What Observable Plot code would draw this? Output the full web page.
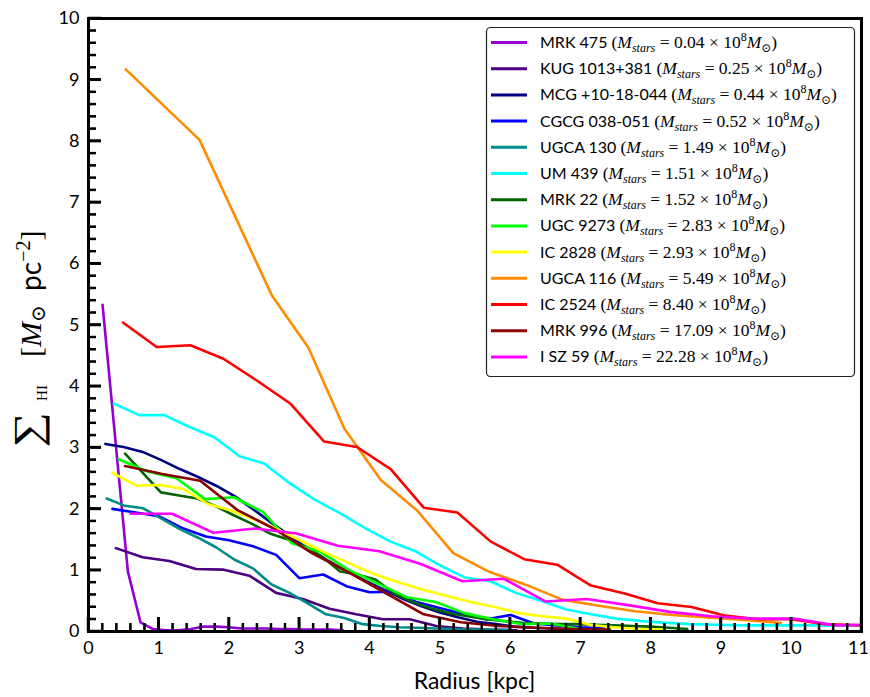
<!DOCTYPE html>
<html><head><meta charset="utf-8">
<script src="https://cdn.jsdelivr.net/npm/d3@7"></script>
<script src="https://cdn.jsdelivr.net/npm/@observablehq/plot@0.6"></script>
<style>body{margin:0;background:#fff}</style>
</head><body><div id="chart"></div>
<script>
// ---- data ----
const galaxies = ["MRK 475","KUG 1013+381","MCG +10-18-044","CGCG 038-051","UGCA 130","UM 439","MRK 22","UGC 9273","IC 2828","UGCA 116","IC 2524","MRK 996","I SZ 59"];
const stellarMass = ["0.04","0.25","0.44","0.52","1.49","1.51","1.52","2.83","2.93","5.49","8.40","17.09","22.28"];
const colors = ["#9400d3","#4b0082","#000080","#0000ff","#008b8b","#00ffff","#006400","#00ff00","#ffff00","#ff8c00","#ff0000","#8b0000","#ff00ff"];

const r_MRK475 = [0.2,0.56,0.74,0.92,1.1,1.28,1.46,1.64,1.82,2.0,2.18,2.36,2.54,2.72,2.9,3.08,3.26,3.44,3.62];
const s_MRK475 = [5.33,0.98,0.15,0.04,0.02,0.02,0.04,0.08,0.08,0.07,0.05,0.05,0.05,0.04,0.04,0.03,0.03,0.03,0.02];
const r_KUG = [0.39,0.77,1.15,1.53,1.91,2.29,2.67,3.05,3.43,3.81,4.19,4.57,4.95,5.33,5.71,6.09];
const s_KUG = [1.36,1.21,1.15,1.02,1.01,0.91,0.63,0.53,0.37,0.28,0.2,0.2,0.09,0.05,0.03,0.02];
const r_MCG = [0.24,0.5,0.77,1.03,1.3,1.56,1.83,2.09,2.36,2.62,2.89,3.15,3.42,3.68,3.95,4.21,4.48,4.74,5.0,5.27,5.53,5.8,6.06,6.33,6.59,6.86,7.12];
const s_MCG = [3.06,3.01,2.93,2.8,2.65,2.52,2.37,2.2,1.98,1.76,1.54,1.33,1.15,0.98,0.82,0.68,0.53,0.41,0.31,0.23,0.16,0.12,0.08,0.06,0.05,0.04,0.03];
const r_CGCG = [0.34,0.67,1.0,1.33,1.67,2.0,2.34,2.67,3.0,3.34,3.67,4.0,4.34,4.67,5.01,5.34,5.67,6.01,6.34,6.67,7.0,7.34];
const s_CGCG = [2.0,1.94,1.88,1.69,1.55,1.49,1.39,1.25,0.87,0.93,0.74,0.64,0.65,0.48,0.38,0.28,0.2,0.27,0.13,0.1,0.07,0.05];
const r_UGCA130 = [0.26,0.52,0.78,1.04,1.3,1.56,1.82,2.08,2.34,2.6,2.86,3.12,3.38,3.64,3.9,4.16,4.42,4.68,4.94,5.2,5.46,5.72,5.98];
const s_UGCA130 = [2.17,2.05,2.01,1.84,1.67,1.53,1.37,1.17,1.03,0.77,0.63,0.46,0.28,0.22,0.12,0.09,0.07,0.06,0.05,0.04,0.03,0.03,0.02];
const r_UM439 = [0.36,0.72,1.08,1.43,1.79,2.15,2.5,2.86,3.22,3.58,3.93,4.29,4.65,5.0,5.36,5.72,6.08,6.44,6.8,7.15,7.51,7.87,8.23,8.58,8.94,9.3,9.66,10.01,10.37,10.73,11.0];
const s_UM439 = [3.72,3.53,3.53,3.34,3.17,2.86,2.74,2.42,2.15,1.93,1.69,1.47,1.31,1.08,0.88,0.82,0.63,0.5,0.36,0.28,0.21,0.17,0.14,0.12,0.11,0.1,0.1,0.1,0.1,0.1,0.1];
const r_MRK22 = [0.52,0.78,1.03,1.29,1.55,1.8,2.06,2.32,2.58,2.84,3.1,3.35,3.58,3.8,4.08,4.35,4.62,4.87,5.13,5.4,5.65,5.9,6.17,6.43,6.7,6.96,7.22,7.48,7.74,8.0,8.26,8.52];
const s_MRK22 = [2.9,2.58,2.27,2.22,2.17,2.05,1.9,1.76,1.6,1.5,1.38,1.2,0.98,0.94,0.85,0.62,0.48,0.38,0.3,0.25,0.2,0.17,0.14,0.13,0.12,0.12,0.11,0.1,0.09,0.08,0.06,0.04];
const r_UGC9273 = [0.43,0.84,1.25,1.66,2.07,2.48,2.89,3.3,3.71,4.12,4.53,4.94,5.35,5.76,6.17,6.58,6.99,7.4];
const s_UGC9273 = [2.81,2.61,2.5,2.16,2.19,1.95,1.44,1.3,1.0,0.78,0.56,0.48,0.3,0.2,0.12,0.13,0.04,0.02];
const r_IC2828 = [0.34,0.68,1.02,1.36,1.7,2.04,2.38,2.72,3.06,3.4,3.74,4.08,4.42,4.76,5.1,5.44,5.78,6.12,6.46,6.8,7.14,7.48,7.82,8.16];
const s_IC2828 = [2.59,2.38,2.39,2.32,2.08,1.97,1.82,1.65,1.46,1.27,1.1,0.93,0.8,0.68,0.58,0.48,0.4,0.3,0.25,0.21,0.11,0.07,0.04,0.03];
const r_UGCA116 = [0.53,1.58,2.61,3.13,3.64,4.16,4.68,5.19,5.71,6.23,6.74,7.26,7.78,8.3,8.81,9.33,9.85];
const s_UGCA116 = [9.17,8.02,5.48,4.63,3.31,2.47,1.97,1.28,0.97,0.76,0.52,0.42,0.33,0.27,0.23,0.19,0.14];
const r_IC2524 = [0.49,0.97,1.45,1.92,2.4,2.87,3.35,3.82,4.3,4.77,5.25,5.72,6.2,6.67,7.15,7.63,8.1,8.58,9.05,9.53,10.0,10.48,10.96];
const s_IC2524 = [5.04,4.64,4.67,4.45,4.09,3.72,3.1,3.01,2.65,2.02,1.94,1.47,1.18,1.09,0.75,0.62,0.46,0.4,0.26,0.2,0.2,0.12,0.1];
const r_MRK996 = [0.52,1.05,1.59,2.12,2.65,3.18,3.71,4.24,4.77,5.3,5.83,6.36,6.89,7.42];
const s_MRK996 = [2.7,2.57,2.46,1.98,1.67,1.28,0.96,0.62,0.28,0.15,0.09,0.06,0.04,0.03];
const r_ISZ59 = [0.6,1.19,1.78,2.37,2.96,3.55,4.14,4.73,5.32,5.91,6.5,7.09,7.68,8.27,8.86,9.45,10.04,10.63,11.0];
const s_ISZ59 = [1.92,1.92,1.61,1.68,1.6,1.4,1.31,1.1,0.82,0.86,0.49,0.53,0.43,0.32,0.25,0.21,0.21,0.1,0.11];

const xMajor = [0,1,2,3,4,5,6,7,8,9,10,11];
const yMajor = [0,1,2,3,4,5,6,7,8,9,10];
const xMinor = [];
for (let i = 1; i < 55; i++) if (i % 5 !== 0) xMinor.push(i / 5);
const yMinor = [];
for (let i = 1; i < 50; i++) if (i % 5 !== 0) yMinor.push(i / 5);

// ---- build table ----
const radii = [r_MRK475,r_KUG,r_MCG,r_CGCG,r_UGCA130,r_UM439,r_MRK22,r_UGC9273,r_IC2828,r_UGCA116,r_IC2524,r_MRK996,r_ISZ59];
const sigmas = [s_MRK475,s_KUG,s_MCG,s_CGCG,s_UGCA130,s_UM439,s_MRK22,s_UGC9273,s_IC2828,s_UGCA116,s_IC2524,s_MRK996,s_ISZ59];
const rows = [];
galaxies.forEach((g, i) => radii[i].forEach((r, j) => rows.push({g, r, s: sigmas[i][j]})));

const W = 870, H = 697, mT = 18, mB = 66, mL = 88, mR = 9;
const innerW = W - mL - mR, innerH = H - mT - mB;
const pxX = innerW / 11, pxY = innerH / 10;
const sans = "Lato, 'DejaVu Sans', sans-serif";
const serif = "'Liberation Serif', 'DejaVu Serif', serif";

const svg = Plot.plot({
  width: W, height: H,
  marginTop: mT, marginBottom: mB, marginLeft: mL, marginRight: mR,
  style: {fontFamily: sans, fontSize: "18px"},
  x: {domain: [0, 11], axis: null},
  y: {domain: [0, 10], axis: null},
  color: {domain: galaxies, range: colors},
  marks: [
    Plot.line(rows, {x: "r", y: "s", z: "g", stroke: "g", strokeWidth: 2.6}),
    Plot.ruleX(xMinor, {x: d => d, y1: 0, y2: 8 / pxY, stroke: "black", strokeWidth: 2}),
    Plot.ruleX(xMajor, {x: d => d, y1: 0, y2: 14 / pxY, stroke: "black", strokeWidth: 2.5}),
    Plot.ruleY(yMinor, {y: d => d, x1: 0, x2: 8 / pxX, stroke: "black", strokeWidth: 2}),
    Plot.ruleY(yMajor, {y: d => d, x1: 0, x2: 13 / pxX, stroke: "black", strokeWidth: 2.5}),
    Plot.text(xMajor.slice(0, -1), {x: d => d, y: 0, dy: 17, text: d => String(d), fontSize: 18, fill: "black"}),
    Plot.text(xMajor.slice(-1), {x: d => d, y: 0, dy: 17, dx: -3, text: d => String(d), fontSize: 18, fill: "black"}),
    Plot.text(yMajor, {x: 0, y: d => d, dx: -9, text: d => String(d), textAnchor: "end", fontSize: 18, fill: "black"}),
    Plot.frame({stroke: "black", strokeWidth: 3})
  ]
});
document.getElementById("chart").appendChild(svg);

const root = d3.select(svg);
const sx = svg.scale("x"), sy = svg.scale("y");
const tg = root.append("g");
const y0 = sy.apply(0), x0 = sx.apply(0);
xMinor.forEach(v => tg.append("line").attr("x1", sx.apply(v)).attr("x2", sx.apply(v)).attr("y1", y0).attr("y2", y0 - 8).attr("stroke", "black").attr("stroke-width", 2));
xMajor.forEach(v => tg.append("line").attr("x1", sx.apply(v)).attr("x2", sx.apply(v)).attr("y1", y0).attr("y2", y0 - 14).attr("stroke", "black").attr("stroke-width", 2.5));
yMinor.forEach(v => tg.append("line").attr("y1", sy.apply(v)).attr("y2", sy.apply(v)).attr("x1", x0).attr("x2", x0 + 8).attr("stroke", "black").attr("stroke-width", 2));
yMajor.forEach(v => tg.append("line").attr("y1", sy.apply(v)).attr("y2", sy.apply(v)).attr("x1", x0).attr("x2", x0 + 13).attr("stroke", "black").attr("stroke-width", 2.5));

// x label
root.append("text").attr("x", mL + innerW / 2).attr("y", 689).attr("text-anchor", "middle")
  .attr("font-family", sans).attr("font-size", 23).attr("fill", "black").text("Radius [kpc]");

// y label
root.append("text").attr("transform", "translate(41,430) rotate(-90) scale(1.25,1)")
  .attr("text-anchor", "middle").attr("font-family", serif).attr("font-size", 40).attr("fill", "black").text("∑");
root.append("text").attr("transform", "translate(47,393) rotate(-90)")
  .attr("text-anchor", "middle").attr("font-family", serif).attr("font-size", 15).attr("fill", "black").text("HI");
const yl = root.append("text").attr("transform", "translate(41,357) rotate(-90)")
  .attr("text-anchor", "start").attr("fill", "black").attr("font-family", serif);
yl.append("tspan").attr("font-size", 30).text("[");
yl.append("tspan").attr("font-size", 30).attr("font-style", "italic").text("M");
yl.append("tspan").attr("font-size", 20).attr("dy", 4).text("⊙");
yl.append("tspan").attr("font-size", 28).attr("dy", -4).attr("font-family", sans).text("  pc");
yl.append("tspan").attr("font-size", 20).attr("dy", -11).text("−2");
yl.append("tspan").attr("font-size", 30).attr("dy", 11).text("]");

// legend
const lg = root.append("g").attr("text-anchor", "start");
lg.append("rect").attr("x", 486.5).attr("y", 27.5).attr("width", 368).attr("height", 349).attr("rx", 4)
  .attr("fill", "white").attr("stroke", "#222").attr("stroke-width", 1.2);
galaxies.forEach((g, i) => {
  const y = 42.5 + i * 26.2;
  lg.append("line").attr("x1", 491).attr("x2", 527).attr("y1", y).attr("y2", y)
    .attr("stroke", colors[i]).attr("stroke-width", 3);
  const t = lg.append("text").attr("x", 540).attr("y", y + 5.5).attr("fill", "black").attr("text-anchor", "start");
  t.append("tspan").attr("font-family", sans).attr("font-size", 16).text(g + " ");
  t.append("tspan").attr("font-family", serif).attr("font-size", 17.5).text("(");
  t.append("tspan").attr("font-family", serif).attr("font-size", 17.5).attr("font-style", "italic").text("M");
  t.append("tspan").attr("font-family", serif).attr("font-size", 12).attr("font-style", "italic").attr("dy", 4).text("stars");
  t.append("tspan").attr("font-family", serif).attr("font-size", 17.5).attr("dy", -4).text(" = " + stellarMass[i] + " × 10");
  t.append("tspan").attr("font-family", serif).attr("font-size", 12).attr("dy", -7).text("8");
  t.append("tspan").attr("font-family", serif).attr("font-size", 17.5).attr("font-style", "italic").attr("dy", 7).text("M");
  t.append("tspan").attr("font-family", serif).attr("font-size", 12).attr("dy", 4).text("⊙");
  t.append("tspan").attr("font-family", serif).attr("font-size", 17.5).attr("dy", -4).text(")");
});
</script>
</body></html>
